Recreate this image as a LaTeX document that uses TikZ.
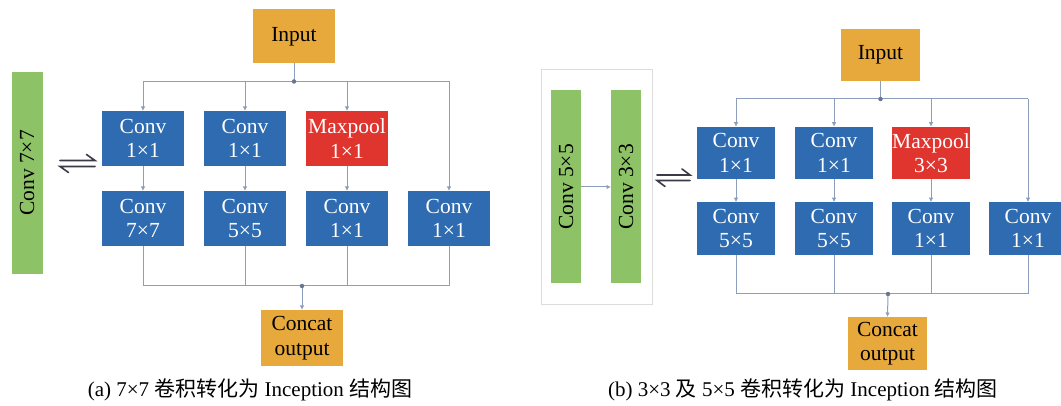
\documentclass[tikz,border=0pt]{standalone}
\usepackage{fontspec}
\setmainfont{Liberation Serif}
\newfontfamily\cjk{Noto Sans CJK SC}
\usetikzlibrary{arrows.meta}

\definecolor{inorange}{HTML}{E8A93C}
\definecolor{boxblue}{HTML}{2E6BB0}
\definecolor{poolred}{HTML}{E0352F}
\definecolor{bargreen}{HTML}{8DC266}
\definecolor{wirecol}{HTML}{8C9EBC}
\definecolor{framegray}{HTML}{DCDCDC}
\definecolor{harp}{HTML}{3A3A48}

\begin{document}
\begin{tikzpicture}[x=1pt,y=-1pt,
  every node/.style={inner sep=0pt, outer sep=0pt, align=center,
    font=\fontsize{21.5}{24.5}\selectfont},
  io/.style={fill=inorange, text=black},
  blk/.style={fill=boxblue, text=white},
  pool/.style={fill=poolred, text=white},
  bar/.style={fill=bargreen},
  wire/.style={draw=wirecol, line width=1pt},
  arr/.style={wire, -{Latex[length=4.5pt,width=4.5pt]}},
  jdot/.style={circle, fill=wirecol!75!black, minimum size=4.5pt},
  harpline/.style={draw=harp, line width=1.6pt, line cap=round},
  caption/.style={font=\fontsize{21}{24}\selectfont, text=black}
]
\useasboundingbox (0,0) rectangle (1061,406);

% ---------------- (a) 7x7 convolution ----------------
\node[bar, minimum width=31pt, minimum height=202pt] (ga) at (27,173) {};
\node[rotate=90] (gat) at (ga) {Conv 7×7};

\draw[harpline] (60,160.5) -- (95,160.5) -- (86.5,154.5);
\draw[harpline] (95,166.5) -- (60,166.5) -- (68.5,172.5);

\node[io, minimum width=82pt, minimum height=54pt] (ina) at (294,36.5) {Input};

\begin{scope}[every node/.append style={minimum width=82pt, minimum height=55pt}]
  \node[blk]  (a11) at (143,138.5) {Conv\\1×1};
  \node[blk]  (a12) at (245,138.5) {Conv\\1×1};
  \node[pool] (a13) at (347,138.5) {Maxpool\\1×1};
  \node[blk]  (a21) at (143,218.5) {Conv\\7×7};
  \node[blk]  (a22) at (245,218.5) {Conv\\5×5};
  \node[blk]  (a23) at (347,218.5) {Conv\\1×1};
  \node[blk]  (a24) at (449,218.5) {Conv\\1×1};
\end{scope}

\node[io, minimum width=82pt, minimum height=56pt] (outa) at (302,338) {Concat\\output};

\coordinate (ta) at (294,81.5);
\coordinate (ba) at (302,286);

\draw[wire] (ina.south) -- (ta);
\draw[wire] (a11 |- ta) -- (a24 |- ta);
\draw[arr] (a11 |- ta) -- (a11.north);
\draw[arr] (a12 |- ta) -- (a12.north);
\draw[arr] (a13 |- ta) -- (a13.north);
\draw[arr] (a24 |- ta) -- (a24.north);
\draw[arr] (a11.south) -- (a21.north);
\draw[arr] (a12.south) -- (a22.north);
\draw[arr] (a13.south) -- (a23.north);
\draw[wire] (a21.south) -- (a21 |- ba) -- (a24 |- ba) -- (a24.south);
\draw[wire] (a22.south) -- (a22 |- ba);
\draw[wire] (a23.south) -- (a23 |- ba);
\draw[arr] (ba) -- (outa.north);
\node[jdot] (tad) at (ta) {};
\node[jdot] (bad) at (ba) {};

\node[caption] (capa) at (250,390) {(a) 7×7 {\cjk 卷积转化为} Inception {\cjk 结构图}};

% ---------------- (b) 3x3 and 5x5 convolutions ----------------
\draw[draw=framegray, line width=0.8pt, fill=white] (541,69) rectangle (652.5,304);
\node[bar, minimum width=30pt, minimum height=193pt] (gb1) at (566,187) {};
\node[bar, minimum width=30pt, minimum height=193pt] (gb2) at (626,187) {};
\node[rotate=90] (gb1t) at (gb1) {Conv 5×5};
\node[rotate=90] (gb2t) at (gb2) {Conv 3×3};
\draw[arr] (gb1.east) -- (gb2.west);

\draw[harpline] (657,175) -- (690,175) -- (682,169);
\draw[harpline] (690,180.5) -- (657,180.5) -- (665,186.5);

\node[io, minimum width=79pt, minimum height=52pt] (inb) at (880.5,55) {Input};

\begin{scope}[every node/.append style={minimum width=78.5pt, minimum height=52.5pt}]
  \node[blk]  (b11) at (736,153) {Conv\\1×1};
  \node[blk]  (b12) at (834,153) {Conv\\1×1};
  \node[pool] (b13) at (931,153) {Maxpool\\3×3};
  \node[blk]  (b21) at (736,228.5) {Conv\\5×5};
  \node[blk]  (b22) at (834,228.5) {Conv\\5×5};
  \node[blk]  (b23) at (931,228.5) {Conv\\1×1};
  \node[blk]  (b24) at (1028,228.5) {Conv\\1×1};
\end{scope}

\node[io, minimum width=79pt, minimum height=53pt] (outb) at (887.5,343.5) {Concat\\output};

\coordinate (tb) at (880.5,99);
\coordinate (bb) at (888,294);

\draw[wire] (inb.south) -- (tb);
\draw[wire] (b11 |- tb) -- (b24 |- tb);
\draw[arr] (b11 |- tb) -- (b11.north);
\draw[arr] (b12 |- tb) -- (b12.north);
\draw[arr] (b13 |- tb) -- (b13.north);
\draw[arr] (b24 |- tb) -- (b24.north);
\draw[arr] (b11.south) -- (b21.north);
\draw[arr] (b12.south) -- (b22.north);
\draw[arr] (b13.south) -- (b23.north);
\draw[wire] (b21.south) -- (b21 |- bb) -- (b24 |- bb) -- (b24.south);
\draw[wire] (b22.south) -- (b22 |- bb);
\draw[wire] (b23.south) -- (b23 |- bb);
\draw[arr] (bb) -- (outb.north);
\node[jdot] (tbd) at (tb) {};
\node[jdot] (bbd) at (bb) {};

\node[caption] (capb) at (803,390) {(b) 3×3 {\cjk 及} 5×5 {\cjk 卷积转化为} Inception {\cjk 结构图}};
\end{tikzpicture}
\end{document}
